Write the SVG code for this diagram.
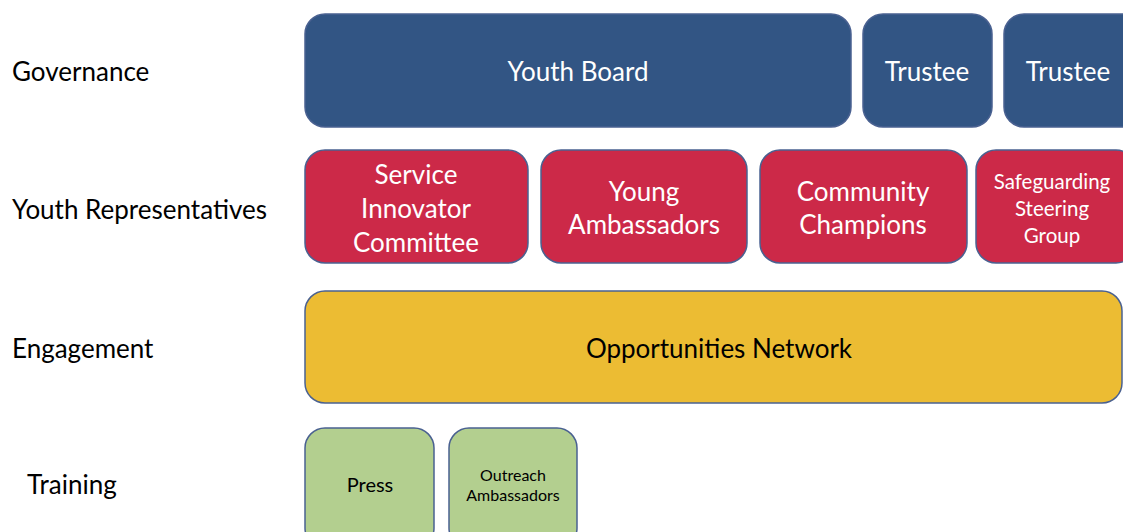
<svg xmlns="http://www.w3.org/2000/svg" width="1123" height="532" viewBox="0 0 1123 532">
<style>
.box{stroke:#4a6191;stroke-width:1.5}
.gov{fill:#325584}
.rep{fill:#cc2948}
.eng{fill:#ecbc33}
.trn{fill:#b3cf8f}
text{font-family:Lato,"Liberation Sans",sans-serif;text-anchor:middle;dominant-baseline:central}
.w{fill:#ffffff;font-size:26px}
.k{fill:#000000}
.lbl{text-anchor:start;font-size:26px;fill:#000000}
</style>
<g id="labels">
<text class="lbl" x="12" y="71">Governance</text>
<text class="lbl" x="12" y="209">Youth Representatives</text>
<text class="lbl" x="12" y="348">Engagement</text>
<text class="lbl" x="27" y="484">Training</text>
</g>
<g id="youth-board"><rect class="box gov" x="305" y="14" width="546" height="113" rx="20"/><text class="w" x="578" y="71">Youth Board</text></g>
<g id="trustee-1"><rect class="box gov" x="863" y="14" width="129" height="113" rx="20"/><text class="w" x="927" y="71">Trustee</text></g>
<g id="trustee-2"><rect class="box gov" x="1004" y="14" width="140" height="113" rx="20"/><text class="w" x="1068" y="71">Trustee</text></g>
<g id="service-innovator"><rect class="box rep" x="305" y="150" width="223" height="113" rx="20"/><text class="w" x="416" y="174">Service</text><text class="w" x="416" y="208">Innovator</text><text class="w" x="416" y="242">Committee</text></g>
<g id="young-ambassadors"><rect class="box rep" x="541" y="150" width="206" height="113" rx="20"/><text class="w" x="644" y="191">Young</text><text class="w" x="644" y="224">Ambassadors</text></g>
<g id="community-champions"><rect class="box rep" x="760" y="150" width="207" height="113" rx="20"/><text class="w" x="863" y="191">Community</text><text class="w" x="863" y="224">Champions</text></g>
<g id="safeguarding"><rect class="box rep" x="976" y="150" width="160" height="113" rx="20"/><text class="w" x="1052" y="181" style="font-size:20.5px">Safeguarding</text><text class="w" x="1052" y="208" style="font-size:20.5px">Steering</text><text class="w" x="1052" y="235" style="font-size:20.5px">Group</text></g>
<g id="opportunities-network"><rect class="box eng" x="305" y="291" width="817" height="112" rx="20"/><text class="k" x="719" y="348" style="font-size:26px">Opportunities Network</text></g>
<g id="press"><rect class="box trn" x="305" y="428" width="129" height="120" rx="20"/><text class="k" x="370" y="484" style="font-size:20px">Press</text></g>
<g id="outreach-ambassadors"><rect class="box trn" x="449" y="428" width="128" height="120" rx="20"/><text class="k" x="513" y="474" style="font-size:16px">Outreach</text><text class="k" x="513" y="494" style="font-size:16px">Ambassadors</text></g>
<g id="connectors"></g>
</svg>
